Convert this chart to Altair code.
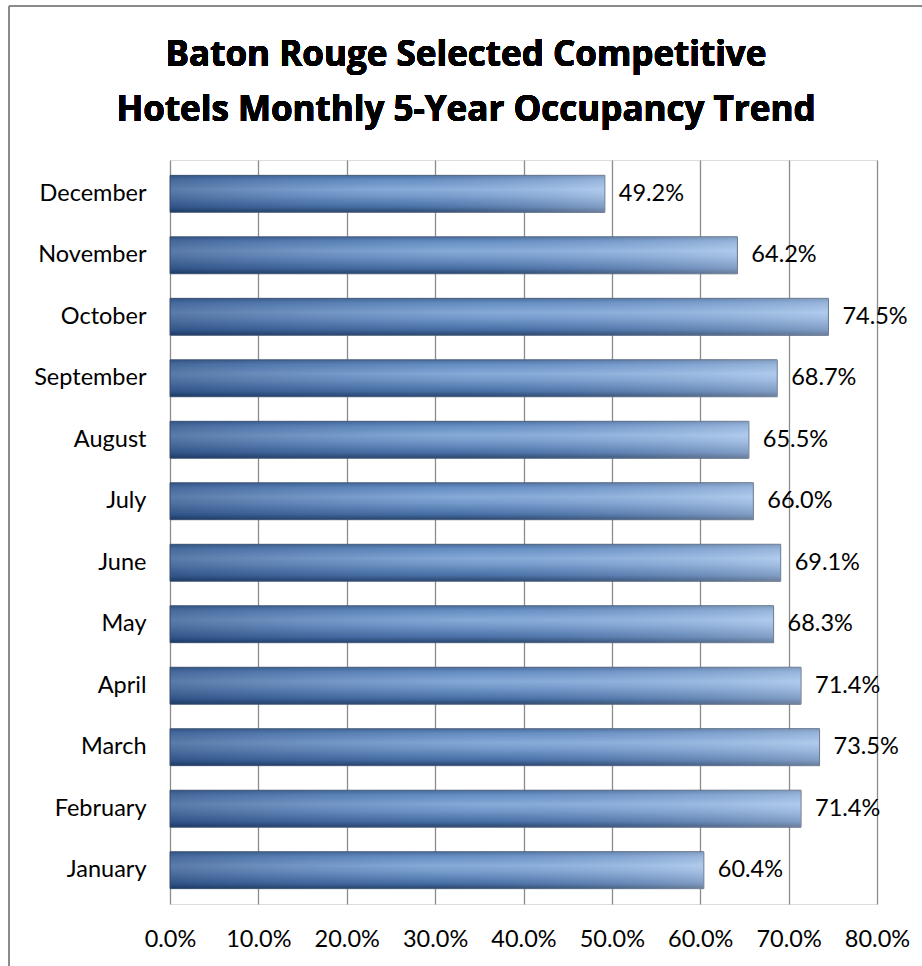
import altair as alt
import pandas as pd

months = ["December", "November", "October", "September", "August", "July",
          "June", "May", "April", "March", "February", "January"]
occupancy = [49.2, 64.2, 74.5, 68.7, 65.5, 66.0, 69.1, 68.3, 71.4, 73.5, 71.4, 60.4]
x_ticks = [0, 10, 20, 30, 40, 50, 60, 70, 80]
title_lines = ["Baton Rouge Selected Competitive", "Hotels Monthly 5-Year Occupancy Trend"]

df = pd.DataFrame({"month": months, "occ": occupancy})
df["label"] = [f"{v:.1f}%" for v in occupancy]

FONT = "Lato"
FS = 23.5

base = alt.Chart(df)

y_enc = alt.Y("month:N", sort=months, title=None,
              scale=alt.Scale(paddingInner=0.4, paddingOuter=0.25),
              axis=alt.Axis(labelFontSize=FS, labelColor="black", labelFont=FONT,
                            ticks=False, domain=False, labelPadding=24, grid=False,
                            labelOverlap=False))
x_enc = alt.X("occ:Q", title=None,
              scale=alt.Scale(domain=[0, 80], nice=False),
              axis=alt.Axis(values=x_ticks, labelExpr="format(datum.value, '.1f') + '%'",
                            labelFontSize=FS, labelColor="black", labelFont=FONT,
                            grid=True, gridColor="#8c8c8c", gridWidth=1.3,
                            ticks=False, domain=False, labelPadding=23,
                            labelOverlap=False, labelFlush=False))

vert_grad = {
    "gradient": "linear", "x1": 0, "y1": 0, "x2": 0, "y2": 1,
    "stops": [
        {"offset": 0.0, "color": "#4b6f9e"},
        {"offset": 0.12, "color": "#6d95c8"},
        {"offset": 0.38, "color": "#93b7e2"},
        {"offset": 0.55, "color": "#7ea3d2"},
        {"offset": 0.85, "color": "#4a71a6"},
        {"offset": 1.0, "color": "#253f63"},
    ],
}
horiz_grad = {
    "gradient": "linear", "x1": 0, "y1": 0, "x2": 1, "y2": 0,
    "stops": [
        {"offset": 0.0, "color": "rgba(20,50,100,0.45)"},
        {"offset": 0.5, "color": "rgba(60,100,160,0.15)"},
        {"offset": 1.0, "color": "rgba(230,240,255,0.35)"},
    ],
}

bars = base.mark_bar(fill=vert_grad, stroke="#4d5f78", strokeWidth=1).encode(x=x_enc, y=y_enc)
overlay = base.mark_bar(fill=horiz_grad).encode(x="occ:Q", y=alt.Y("month:N", sort=months))
labels = base.mark_text(align="left", baseline="middle", dx=14, fontSize=FS,
                        font=FONT, color="black").encode(
    x="occ:Q", y=alt.Y("month:N", sort=months), text="label:N")

TFONT = "Open Sans"
title1 = base.mark_text(align="center", baseline="alphabetic", fontSize=35, fontWeight="bold",
                        font=TFONT, color="black").encode(
    x=alt.value(296), y=alt.value(-94), text=alt.value(title_lines[0]))
title2 = base.mark_text(align="center", baseline="alphabetic", fontSize=35, fontWeight="bold",
                        font=TFONT, color="black").encode(
    x=alt.value(296), y=alt.value(-39), text=alt.value(title_lines[1]))

border_top = base.mark_rule(color="#8a8a8a", strokeWidth=2).encode(
    x=alt.value(-161), x2=alt.value(760), y=alt.value(-154))
border_left = base.mark_rule(color="#8a8a8a", strokeWidth=2).encode(
    x=alt.value(-161), y=alt.value(-154), y2=alt.value(810))

chart = alt.layer(bars, overlay, labels, title1, title2, border_top, border_left).properties(
    width=707, height=744,
    autosize=alt.AutoSizeParams(type="none"),
    padding={"left": 170, "top": 160, "right": 45, "bottom": 62},
).configure_view(stroke=None).configure(background="white")

chart.save("out.html", embed_options={"renderer": "svg", "actions": False})
